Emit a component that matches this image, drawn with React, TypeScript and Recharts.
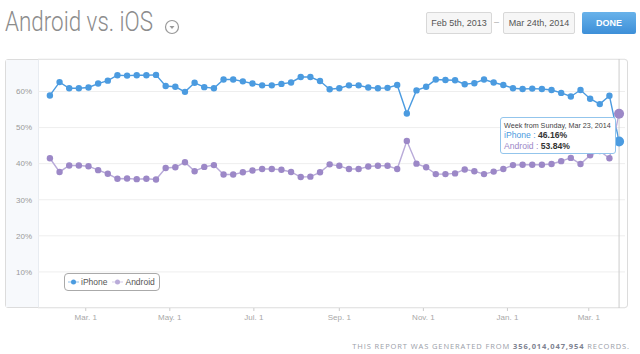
import { LineChart, Line, XAxis, YAxis, CartesianGrid, Tooltip, Legend } from "recharts";

// weekly share of traffic, week starting Sunday Feb 3, 2013
const START = Date.UTC(2013, 1, 3);
const DAY = 86400000;

const iphone = [
  58.9, 62.6, 60.9, 60.9, 61.1, 62.2, 63.0, 64.5, 64.4, 64.5,
  64.5, 64.6, 61.5, 61.3, 59.9, 62.4, 61.2, 60.9, 63.3, 63.3,
  62.8, 62.2, 61.7, 61.7, 62.1, 62.5, 64.0, 64.0, 62.9, 60.6,
  60.9, 61.7, 61.7, 61.1, 60.9, 61.0, 61.8, 53.9, 60.3, 61.3,
  63.3, 63.2, 63.1, 62.0, 62.3, 63.3, 62.5, 61.8, 60.9, 60.7,
  60.8, 60.7, 60.4, 59.6, 58.6, 60.4, 58.0, 56.5, 58.8, 46.16,
];
const android = [
  41.5, 37.7, 39.5, 39.5, 39.3, 38.2, 37.2, 35.8, 35.9, 35.7,
  35.8, 35.6, 38.8, 39.0, 40.4, 37.9, 39.1, 39.6, 37.0, 37.0,
  37.6, 38.1, 38.5, 38.5, 38.3, 37.7, 36.3, 36.4, 37.6, 39.8,
  39.4, 38.5, 38.5, 39.2, 39.4, 39.4, 38.5, 46.3, 40.0, 39.0,
  37.1, 37.1, 37.3, 38.4, 37.9, 37.1, 37.8, 38.5, 39.6, 39.7,
  39.7, 39.7, 39.9, 40.7, 41.6, 39.9, 42.3, 43.5, 41.5, 53.84,
];
const seriesOrder = ["iPhone", "Android"];
const yTicks = [10, 20, 30, 40, 50, 60];
const xTicks = [
  Date.UTC(2013, 2, 1), Date.UTC(2013, 4, 1), Date.UTC(2013, 6, 1), Date.UTC(2013, 8, 1),
  Date.UTC(2013, 10, 1), Date.UTC(2014, 0, 1), Date.UTC(2014, 2, 1),
];
const MONTHS = ["Jan", "Feb", "Mar", "Apr", "May", "Jun", "Jul", "Aug", "Sep", "Oct", "Nov", "Dec"];

const data = iphone.map((v, i) => ({ t: START + i * 7 * DAY, iPhone: v, Android: android[i] }));

const BLUE = "#4b9be0";
const PURPLE = "#9c88c7";
const SANS = "'Liberation Sans', Arial, sans-serif";

const byOrder = (arr: any[], key: string) =>
  [...arr].sort((a, b) => seriesOrder.indexOf(a[key]) - seriesOrder.indexOf(b[key]));

function Tip({ active, payload }: any) {
  if (!active || !payload?.length) return null;
  const d = new Date(payload[0].payload.t);
  const head = `Week from Sunday, ${MONTHS[d.getUTCMonth()]} ${d.getUTCDate()}, ${d.getUTCFullYear()}`;
  return (
    <div style={{
      background: "#fff", border: "1px solid #93c5ec", borderRadius: 3, padding: "3px 4px 2px 3px",
      fontFamily: SANS, fontSize: 7.2, lineHeight: "9px", color: "#444", whiteSpace: "nowrap",
    }}>
      <div>{head}</div>
      {byOrder(payload, "dataKey").map((p: any) => (
        <div key={p.dataKey} style={{ fontSize: 8.6, lineHeight: "10.5px" }}>
          <span style={{ color: p.dataKey === "iPhone" ? BLUE : PURPLE }}>{p.dataKey} : </span>
          <b style={{ color: "#333" }}>{p.value.toFixed(2)}%</b>
        </div>
      ))}
    </div>
  );
}

function LegendBox({ payload }: any) {
  return (
    <div style={{
      display: "inline-flex", alignItems: "center", gap: 5, background: "#fff", border: "1px solid #aaa",
      borderRadius: 4, padding: "1px 4px 1px 3px", height: 14, fontFamily: SANS, fontSize: 8.5, color: "#555",
    }}>
      {byOrder(payload || [], "value").map((p: any) => (
        <span key={p.value} style={{ display: "inline-flex", alignItems: "center", gap: 2 }}>
          <svg width={11} height={8}>
            <line x1={0} y1={4} x2={11} y2={4} stroke={p.color} strokeWidth={1} opacity={0.6} />
            <circle cx={5.5} cy={4} r={2.5} fill={p.color} />
          </svg>
          {p.value}
        </span>
      ))}
    </div>
  );
}

export default function App() {
  return (
    <div style={{ position: "absolute", left: 0, top: 0, width: 640, height: 354, background: "#fff", overflow: "hidden" }}>
      {/* header */}
      <div style={{
        position: "absolute", left: 5, top: 6, fontFamily: "Roboto, sans-serif", fontWeight: 300, fontSize: 27,
        color: "#8c8c8c", transform: "scaleX(0.83)", transformOrigin: "left top", whiteSpace: "nowrap",
      }}>Android vs. iOS</div>
      <svg style={{ position: "absolute", left: 164, top: 19 }} width={16} height={16}>
        <circle cx={8} cy={8} r={6.5} fill="none" stroke="#999" strokeWidth={1.2} />
        <path d="M5.5 7 L10.5 7 L8 10 Z" fill="#999" />
      </svg>
      {[{ l: 426, w: 66, t: "Feb 5th, 2013" }, { l: 503, w: 72, t: "Mar 24th, 2014" }].map((b) => (
        <div key={b.t} style={{
          position: "absolute", left: b.l, top: 12, width: b.w, height: 22, boxSizing: "border-box",
          border: "1px solid #d8d8d8", background: "#f6f6f6", borderRadius: 2, fontFamily: SANS, fontSize: 9,
          color: "#555", display: "flex", alignItems: "center", justifyContent: "center",
        }}>{b.t}</div>
      ))}
      <div style={{ position: "absolute", left: 494, top: 17, fontFamily: SANS, fontSize: 9, color: "#aaa" }}>–</div>
      <div style={{
        position: "absolute", left: 582, top: 12, width: 54, height: 22, borderRadius: 2,
        background: "linear-gradient(#68b2ea, #3d8fd8)", color: "#fff", fontFamily: SANS, fontSize: 9,
        fontWeight: 700, display: "flex", alignItems: "center", justifyContent: "center",
      }}>DONE</div>

      {/* chart panel */}
      <div style={{
        position: "absolute", left: 5, top: 59, width: 623, height: 249, boxSizing: "border-box",
        border: "1px solid #dcdcdc", borderRadius: 3,
      }} />
      <div style={{
        position: "absolute", left: 6, top: 60, width: 32, height: 247, background: "#f7f9fc",
        borderRight: "1px solid #e8ecf1",
      }} />

      <div style={{ position: "absolute", left: 0, top: 0 }}>
        <LineChart width={640} height={354} data={data} margin={{ top: 59, right: 15, bottom: 26, left: 0 }}>
          <CartesianGrid vertical={false} stroke="#eeeeee" />
          <XAxis
            dataKey="t" type="number" scale="linear"
            domain={[START - 8.64 * DAY, START + 417.3 * DAY]}
            ticks={xTicks} allowDataOverflow
            tickFormatter={(t: number) => { const d = new Date(t); return `${MONTHS[d.getUTCMonth()]}. ${d.getUTCDate()}`; }}
            axisLine={false} tickLine={{ stroke: "#cccccc" }} tickSize={3} tickMargin={3} height={20}
            tick={{ fontSize: 8, fill: "#a8a8a8", fontFamily: SANS }}
          />
          <YAxis
            type="number" domain={[0, 69]} ticks={yTicks} width={38}
            tickFormatter={(v: number) => `${v}%`}
            axisLine={false} tickLine={false} tickSize={0} tickMargin={6}
            tick={{ fontSize: 8, fill: "#9a9a9a", fontFamily: SANS }}
          />
          <Tooltip
            active defaultIndex={59} content={<Tip />} position={{ x: 500, y: 117 }}
            cursor={{ stroke: "#cccccc", strokeWidth: 1 }} isAnimationActive={false}
          />
          <Legend
            layout="vertical" align="center" verticalAlign="middle" content={<LegendBox />}
            wrapperStyle={{ position: "absolute", left: 64, top: 272, width: "auto", height: "auto" }}
          />
          <Line
            dataKey="iPhone" name="iPhone" stroke={BLUE} strokeWidth={1.4} isAnimationActive={false}
            dot={{ r: 3.2, fill: BLUE, stroke: "none" }} activeDot={{ r: 5, fill: BLUE, stroke: "none" }}
          />
          <Line
            dataKey="Android" name="Android" stroke="#b9abd9" strokeWidth={1.4} isAnimationActive={false}
            dot={{ r: 3.2, fill: PURPLE, stroke: "none" }} activeDot={{ r: 5, fill: PURPLE, stroke: "none" }}
          />
        </LineChart>
      </div>

      {/* footer */}
      <div style={{
        position: "absolute", right: 10, top: 341, fontFamily: "'Open Sans', sans-serif", fontSize: 7.5,
        letterSpacing: 0.9, color: "#9a9ea8", whiteSpace: "nowrap",
      }}>
        THIS REPORT WAS GENERATED FROM <b style={{ color: "#7d8291" }}>356,014,047,954</b> RECORDS.
      </div>
    </div>
  );
}
